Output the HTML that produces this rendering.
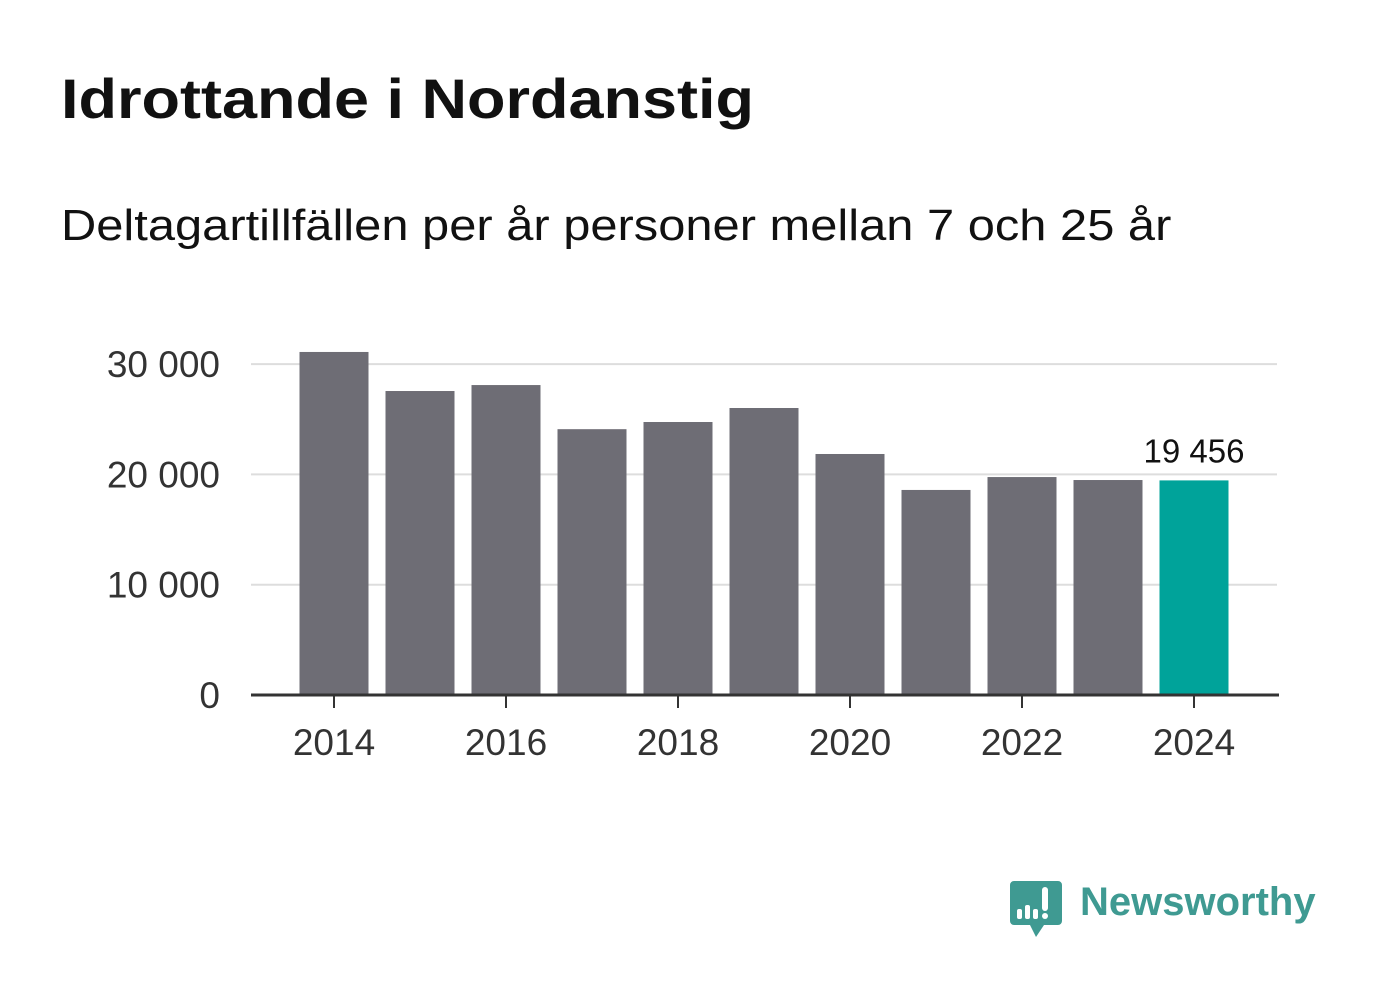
<!DOCTYPE html>
<html><head><meta charset="utf-8"><style>
body{margin:0;width:1382px;height:999px;background:#fff;overflow:hidden;font-family:"Liberation Sans",sans-serif}
h1{position:absolute;left:61px;top:66px;margin:0;font-size:56px;font-weight:bold;color:#111;transform:scaleX(1.125);transform-origin:0 0;white-space:nowrap}
.sub{position:absolute;left:61px;top:201px;font-size:44px;color:#111;transform:scaleX(1.11);transform-origin:0 0;white-space:nowrap}
</style></head><body>
<h1>Idrottande i Nordanstig</h1>
<div class="sub">Deltagartillfällen per år personer mellan 7 och 25 år</div>
<svg id="c" width="1382" height="999" style="position:absolute;left:0;top:0"></svg>
<svg width="60" height="62" style="position:absolute;left:1010px;top:879px">
<path d="M4 2h44a4 4 0 0 1 4 4v36a4 4 0 0 1-4 4H34l-8 12-6-12H4a4 4 0 0 1-4-4V6a4 4 0 0 1 4-4z" fill="#3f9a92"/>
<rect x="7" y="30" width="5" height="10" rx="2" fill="#fff"/><rect x="15" y="26" width="5" height="14" rx="2" fill="#fff"/><rect x="23" y="30" width="5" height="10" rx="2" fill="#fff"/><rect x="32" y="8" width="6" height="24" rx="3" fill="#fff"/><circle cx="35" cy="37" r="3" fill="#fff"/>
</svg>
<div style="position:absolute;left:1080px;top:880px;font-size:40px;font-weight:bold;color:#3f9a92">Newsworthy</div>
<script>
const years=[2014,2015,2016,2017,2018,2019,2020,2021,2022,2023,2024];
const values=[31100,27560,28100,24100,24750,26020,21850,18590,19760,19490,19456];
const yTicks=[0,10000,20000,30000];
const yTickLabels=["0","10 000","20 000","30 000"];
const xTickYears=[2014,2016,2018,2020,2022,2024];
const NS="http://www.w3.org/2000/svg",svg=document.getElementById('c');
const y=v=>695-v*(110.3/10000);
const x=yr=>334+(yr-2014)*86;
function el(t,a){const e=document.createElementNS(NS,t);for(const k in a)e.setAttribute(k,a[k]);svg.appendChild(e);return e;}
yTicks.forEach((t,i)=>{
 if(t>0){const g=el('line',{x1:251,x2:1277,y1:y(t),y2:y(t),stroke:'#ddd','stroke-width':2});
 
 }
 const tx=el('text',{x:220,y:y(t)+13,'text-anchor':'end','font-size':37,fill:'#333','font-family':'Liberation Sans, sans-serif'});
 tx.textContent=yTickLabels[i];
 
 
});
years.forEach((yr,i)=>{
 const r=el('rect',{x:x(yr)-34.5,width:69,y:y(values[i]),height:695-y(values[i]),fill:i==years.length-1?'#00a39a':'#6e6d75'});
 
 
});
const lt=el('text',{x:x(2024),y:y(values[10])-18,'text-anchor':'middle','font-size':33,fill:'#111','font-family':'Liberation Sans, sans-serif'});
lt.textContent="19 456";


const b=el('line',{x1:251,x2:1279,y1:695,y2:695,stroke:'#333','stroke-width':3});


xTickYears.forEach(yr=>{
 const t=el('line',{x1:x(yr),x2:x(yr),y1:695,y2:708,stroke:'#333','stroke-width':2});
 
 
 const tx=el('text',{x:x(yr),y:755,'text-anchor':'middle','font-size':37,fill:'#333','font-family':'Liberation Sans, sans-serif'});
 tx.textContent=yr;
 
 
});
</script>
</body></html>
